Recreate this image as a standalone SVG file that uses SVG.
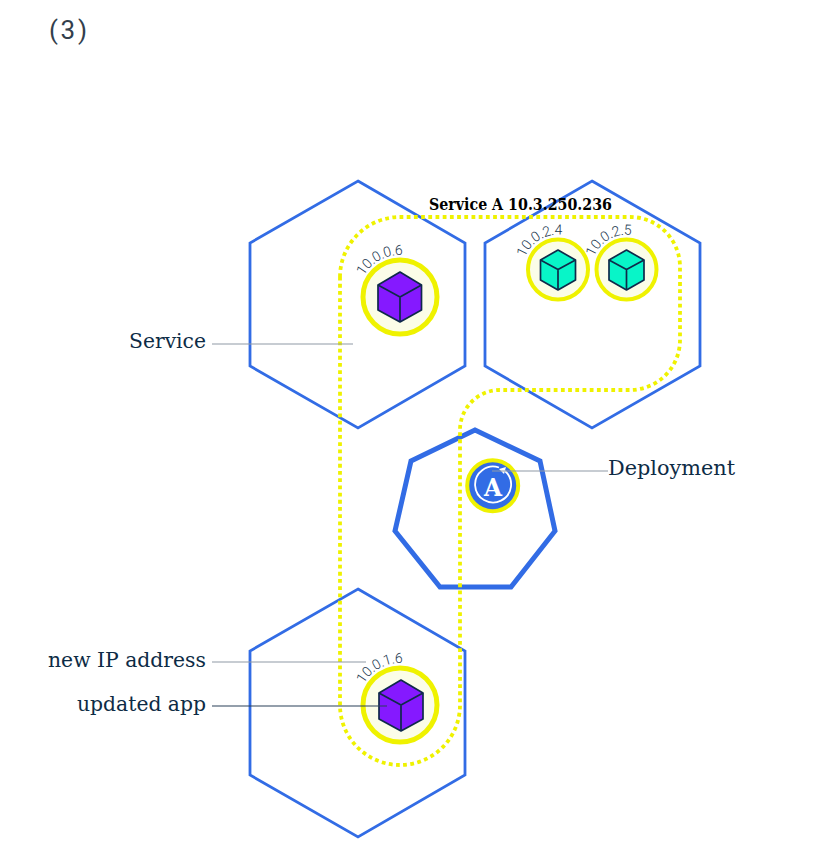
<svg xmlns="http://www.w3.org/2000/svg" width="834" height="854" viewBox="0 0 834 854">
<style>
.hex{fill:none;stroke:#326ce5;stroke-width:2.8}
.ring{fill:#fbfde8;stroke:#eff200;stroke-linejoin:round}
.cube{stroke:#0f2a4a;stroke-width:1.7;stroke-linejoin:round}
.purple{fill:#8519ff}
.teal{fill:#08f5c8}
.lead{fill:none;stroke:#8f9aa6;stroke-width:1.1}
.dark{stroke:#2a4058}
.label{font-family:"DejaVu Serif","Liberation Serif",serif;font-size:21px;fill:#0d2b45}
.ip{font-family:Roboto,"Liberation Sans",sans-serif;font-weight:300;font-size:14px;letter-spacing:-.3px;fill:#22384f}
</style>
<defs>
<path id="arc1" d="M363.6 276 A42 42 0 0 1 418 259"/>
<path id="arc2" d="M525 257.5 A35 35 0 0 1 578 241"/>
<path id="arc3" d="M594 257 A35 35 0 0 1 648 242"/>
<path id="arc4" d="M363.6 684 A42 42 0 0 1 418 667"/>
</defs>
<text x="49" y="39" font-family="Roboto,'Liberation Sans',sans-serif" font-size="26" fill="#333f4d" textLength="38">(3)</text>
<g id="node-top-left"><polygon class="hex" points="358,181 465,243 465,366 358,428 250,366 250,243"/></g>
<g id="node-top-right"><polygon class="hex" points="592,181 700,243 700,366 592,428 485,366 485,243"/></g>
<g id="node-bottom"><polygon class="hex" points="358,589 465,651 465,775 358,837 250,775 250,651"/></g>
<g id="node-master"><polygon fill="none" stroke="#326ce5" stroke-width="5" stroke-linejoin="miter" points="475,430 540,461 555,531 511,587 440,587 395,531 411,461"/></g>
<g id="connectors">
<path fill="none" stroke="#eff200" stroke-width="3.8" stroke-dasharray="3.8 3.4" d="M340 277 A60 60 0 0 1 400 217 H630 A50 50 0 0 1 680 267 V340 A50 50 0 0 1 630 390 H500 A40 40 0 0 0 460 430 V705 A60 60 0 0 1 340 705 Z"/>
</g>
<g id="pod-a">
<circle class="ring" cx="400" cy="297" r="37" stroke-width="5"/>
<polygon class="cube purple" points="400,272 421.5,285 421.5,310 400,322 378,310 378,285"/>
<path class="cube" fill="none" d="M378 285 L400 297 L421.5 285 M400 297 V322"/>
<text class="ip"><textPath href="#arc1">10.0.0.6</textPath></text>
</g>
<g id="pod-b">
<circle class="ring" cx="558" cy="269.5" r="30" stroke-width="4"/>
<polygon class="cube teal" points="558,250 575.5,260 575.5,280 558,290 540.5,280 540.5,260"/>
<path class="cube" fill="none" d="M540.5 260 L558 269.5 L575.5 260 M558 269.5 V290"/>
<text class="ip"><textPath href="#arc2">10.0.2.4</textPath></text>
</g>
<g id="pod-c">
<circle class="ring" cx="626.5" cy="269.5" r="30" stroke-width="4"/>
<polygon class="cube teal" points="626.5,250 644,260 644,280 626.5,290 609,280 609,260"/>
<path class="cube" fill="none" d="M609 260 L626.5 269.5 L644 260 M626.5 269.5 V290"/>
<text class="ip"><textPath href="#arc3">10.0.2.5</textPath></text>
</g>
<g id="pod-new">
<circle class="ring" cx="400" cy="705" r="37" stroke-width="5"/>
<polygon class="cube purple" points="401,680 423,693 423,719 401,731 379,719 379,693"/>
<path class="cube" fill="none" d="M379 693 L401 705 L423 693 M401 705 V731"/>
<text class="ip"><textPath href="#arc4">10.0.1.6</textPath></text>
</g>
<g id="deployment">
<circle cx="492.7" cy="485.7" r="25.5" fill="#326ce5" stroke="#eff200" stroke-width="4"/>
<path fill="none" stroke="#fff" stroke-width="1.8" d="M505 471 A18 18 0 1 1 499 467.5"/>
<path fill="#fff" d="M506 467 L499 469 L504 474 Z"/>
<text x="493" y="495.5" text-anchor="middle" font-family="'DejaVu Serif','Liberation Serif',serif" font-weight="700" font-size="25" fill="#fff" textLength="18" lengthAdjust="spacingAndGlyphs">A</text>
</g>
<g id="leaders">
<path class="lead" d="M212 344 H353"/>
<path class="lead" d="M212 662 H366"/>
<path class="lead dark" d="M212 706 H387"/>
<path class="lead" d="M492 471 H608"/>
</g>
<g id="labels">
<text x="429" y="210" font-family="'DejaVu Serif','Liberation Serif',serif" font-weight="700" font-size="16.5" fill="#000" textLength="183" lengthAdjust="spacingAndGlyphs">Service A 10.3.250.236</text>
<text class="label" x="129" y="348" textLength="77" lengthAdjust="spacingAndGlyphs">Service</text>
<text class="label" x="608" y="475" textLength="127" lengthAdjust="spacingAndGlyphs">Deployment</text>
<text class="label" x="48" y="667" textLength="158" lengthAdjust="spacingAndGlyphs">new IP address</text>
<text class="label" x="77" y="711" textLength="129" lengthAdjust="spacingAndGlyphs">updated app</text>
</g>
</svg>
